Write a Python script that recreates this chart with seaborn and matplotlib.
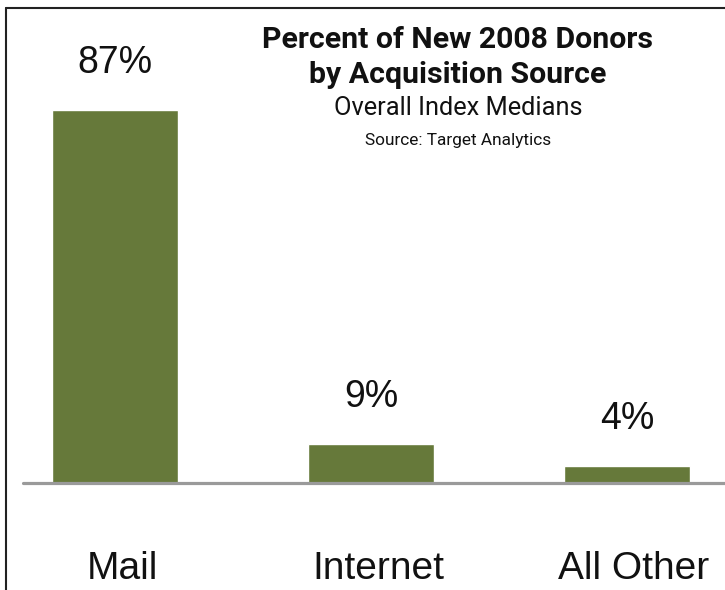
import matplotlib
matplotlib.use("Agg")
import matplotlib.pyplot as plt
from matplotlib import font_manager
from matplotlib.lines import Line2D
import seaborn as sns
import pandas as pd

# ---- data ----
categories = ["Mail", "Internet", "All Other"]
values = [87, 9, 4]
value_labels = ["87%", "9%", "4%"]
title_lines = ["Percent of New 2008 Donors", "by Acquisition Source"]
subtitle = "Overall Index Medians"
source_text = "Source: Target Analytics"

sns.set_theme(style="white")
plt.rcParams["font.family"] = ["Liberation Sans", "DejaVu Sans"]

names = {f.name for f in font_manager.fontManager.ttflist}
if "Liberation Sans Narrow" in names:
    cond_family = ["Liberation Sans Narrow", "Liberation Sans"]
    sizes = (22, 22, 15)
else:
    cond_family = ["Roboto", "Liberation Sans"]
    sizes = (21.8, 18.3, 12.4)

W, H = 725, 590
fig = plt.figure(figsize=(W / 100, H / 100), dpi=100)
fig.patch.set_facecolor("white")

# axes: left 23px, right 725px, baseline at y=483px, top at y=8px
ax = fig.add_axes([23 / W, (H - 483) / H, (W - 23) / W, (483 - 8) / H])
df = pd.DataFrame({"category": categories, "value": values})
sns.barplot(data=df, x="category", y="value", color="#66793a", saturation=1,
            width=0.492, ax=ax)
ax.set_xlim(-0.359, 2.383)
ax.set_ylim(0, 110.8)
ax.set_facecolor("white")
for s in ax.spines.values():
    s.set_visible(False)
ax.axhline(0, color="#9a9a9a", lw=2.3, zorder=3, clip_on=False)
ax.set_yticks([])
ax.set_xlabel("")
ax.set_ylabel("")
ax.set_xticks([i + 0.028 for i in range(len(categories))])
ax.set_xticklabels(categories, fontsize=28, color="#111111")
ax.tick_params(axis="x", length=0, pad=49)

ax.bar_label(ax.containers[0], labels=value_labels, padding=21,
             fontsize=27, color="#111111")

cx = 458 / W
fig.text(cx, 1 - 40 / H, title_lines[0], ha="center", va="center",
         fontsize=sizes[0], fontweight="bold", family=cond_family, color="#111111")
fig.text(cx, 1 - 75 / H, title_lines[1], ha="center", va="center",
         fontsize=sizes[0], fontweight="bold", family=cond_family, color="#111111")
fig.text(cx, 1 - 108 / H, subtitle, ha="center", va="center",
         fontsize=sizes[1], family=cond_family, color="#111111")
fig.text(cx, 1 - 140 / H, source_text, ha="center", va="center",
         fontsize=sizes[2], family=cond_family, color="#111111")

# frame (top and left borders)
fig.add_artist(Line2D([6 / W, 1], [1 - 8 / H, 1 - 8 / H], transform=fig.transFigure,
                      color="#222222", lw=1.5))
fig.add_artist(Line2D([6 / W, 6 / W], [0, 1 - 8 / H], transform=fig.transFigure,
                      color="#222222", lw=1.5))

fig.savefig("out.png", dpi=100, facecolor="white")
